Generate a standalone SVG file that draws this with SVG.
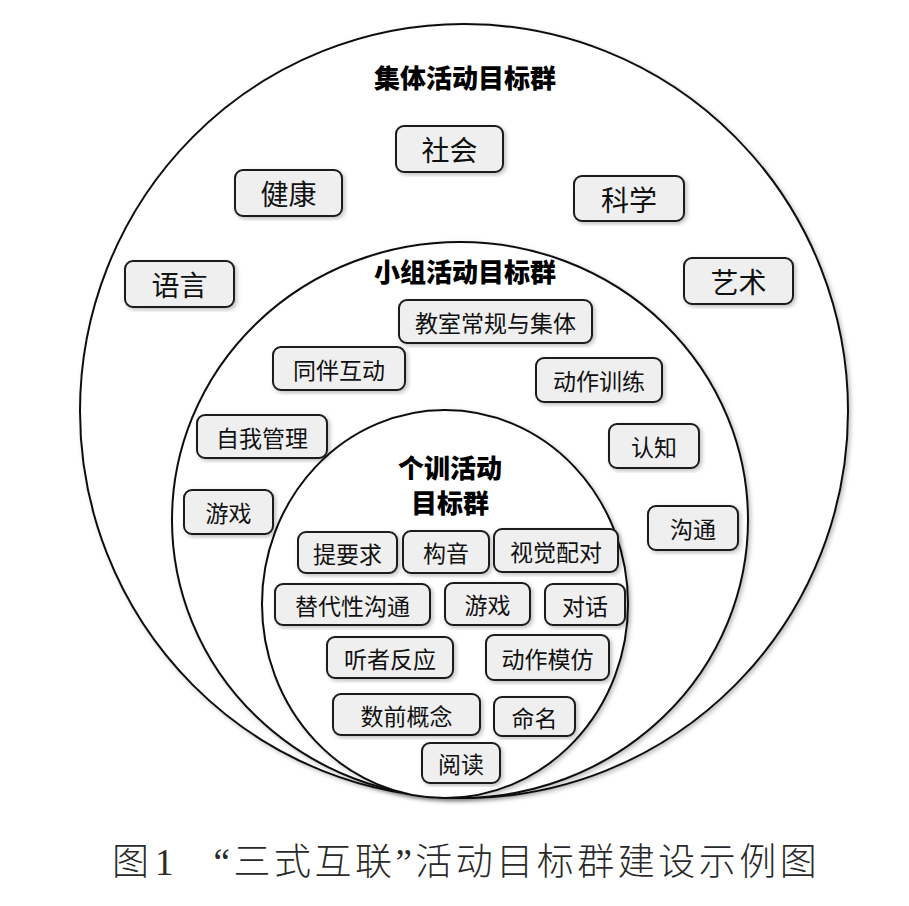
<svg xmlns="http://www.w3.org/2000/svg" width="909" height="906" viewBox="0 0 909 906">
<defs>
<filter id="sh" x="-10%" y="-10%" width="120%" height="120%">
<feDropShadow dx="2" dy="2" stdDeviation="2" flood-color="#000" flood-opacity="0.25"/>
</filter>
<style>
.ring{fill:#fff;stroke:#111;stroke-width:2;filter:url(#sh)}
.box rect{fill:#efefef;stroke:#1a1a1a;stroke-width:2;filter:url(#sh)}
.box text{font-family:"Noto Sans CJK SC","Noto Sans CJK JP",sans-serif;fill:#111;text-anchor:middle;dominant-baseline:central}
.l1 text{font-size:28px}
.l2 text{font-size:23px}
.l3 text{font-size:23px}
.title{font-family:"Noto Sans CJK SC",sans-serif;font-weight:900;fill:#000;text-anchor:middle;dominant-baseline:central}
.cap{font-family:"Liberation Serif","Noto Sans CJK SC",serif;font-size:37px;font-weight:300;fill:#2a2a2a}
</style>
</defs>
<rect width="909" height="906" fill="#fff"/>
<g id="rings">
<ellipse id="ring-outer" class="ring" cx="464" cy="411" rx="384" ry="387"/>
<ellipse id="ring-middle" class="ring" cx="460" cy="520" rx="288" ry="278"/>
<ellipse id="ring-inner" class="ring" cx="445" cy="604" rx="183" ry="194"/>
</g>
<g id="titles">
<text class="title" x="465" y="76" font-size="26">集体活动目标群</text>
<text class="title" x="465" y="270" font-size="26">小组活动目标群</text>
<text class="title" x="450" y="466" font-size="26">个训活动</text>
<text class="title" x="450" y="501" font-size="26">目标群</text>
</g>
<g id="connectors"/>
<g id="n-shehui" class="box l1"><rect x="396" y="126" width="107" height="46" rx="8"/><text x="449.5" y="149">社会</text></g>
<g id="n-jiankang" class="box l1"><rect x="235" y="170" width="107" height="46" rx="8"/><text x="288.5" y="193">健康</text></g>
<g id="n-kexue" class="box l1"><rect x="574" y="176" width="110" height="45" rx="8"/><text x="629" y="198.5">科学</text></g>
<g id="n-yuyan" class="box l1"><rect x="125" y="261" width="109" height="46" rx="8"/><text x="179.5" y="284">语言</text></g>
<g id="n-yishu" class="box l1"><rect x="684" y="258" width="109" height="46" rx="8"/><text x="738.5" y="281">艺术</text></g>

<g id="n-jiaoshi" class="box l2"><rect x="399" y="300" width="193" height="43" rx="8"/><text x="495.5" y="321.5">教室常规与集体</text></g>
<g id="n-tongban" class="box l2"><rect x="273" y="347" width="132" height="43" rx="8"/><text x="339" y="368.5">同伴互动</text></g>
<g id="n-dongzuoxl" class="box l2"><rect x="536" y="358" width="126" height="44" rx="8"/><text x="599" y="380">动作训练</text></g>
<g id="n-ziwo" class="box l2"><rect x="197" y="415" width="130" height="43" rx="8"/><text x="262" y="436.5">自我管理</text></g>
<g id="n-renzhi" class="box l2"><rect x="609" y="424" width="90" height="44" rx="8"/><text x="654" y="446">认知</text></g>
<g id="n-youxi1" class="box l2"><rect x="184" y="490" width="89" height="44" rx="8"/><text x="228.5" y="512">游戏</text></g>
<g id="n-goutong" class="box l2"><rect x="648" y="506" width="90" height="44" rx="8"/><text x="693" y="528">沟通</text></g>

<g id="n-tiyaoqiu" class="box l3"><rect x="298" y="532" width="99" height="41" rx="8"/><text x="347.5" y="552.5">提要求</text></g>
<g id="n-gouyin" class="box l3"><rect x="403" y="531" width="86" height="42" rx="8"/><text x="446" y="552">构音</text></g>
<g id="n-shijue" class="box l3"><rect x="494" y="529" width="124" height="43" rx="8"/><text x="556" y="550.5">视觉配对</text></g>
<g id="n-tidai" class="box l3"><rect x="275" y="584" width="155" height="41" rx="8"/><text x="352.5" y="604.5">替代性沟通</text></g>
<g id="n-youxi2" class="box l3"><rect x="445" y="583" width="85" height="42" rx="8"/><text x="487.5" y="604">游戏</text></g>
<g id="n-duihua" class="box l3"><rect x="545" y="584" width="80" height="41" rx="8"/><text x="585" y="604.5">对话</text></g>
<g id="n-tingzhe" class="box l3"><rect x="327" y="637" width="126" height="41" rx="8"/><text x="390" y="657.5">听者反应</text></g>
<g id="n-mofang" class="box l3"><rect x="486" y="635" width="123" height="45" rx="8"/><text x="547.5" y="657.5">动作模仿</text></g>
<g id="n-shuqian" class="box l3"><rect x="333" y="694" width="147" height="41" rx="8"/><text x="406.5" y="714.5">数前概念</text></g>
<g id="n-mingming" class="box l3"><rect x="494" y="697" width="81" height="39" rx="8"/><text x="534.5" y="716.5">命名</text></g>
<g id="n-yuedu" class="box l3"><rect x="422" y="743" width="78" height="40" rx="8"/><text x="461" y="763">阅读</text></g>

<text class="cap" x="112" y="875">图<tspan dx="6">1</tspan><tspan dx="40" letter-spacing="3.5">“三式互联”活动目标群建设示例图</tspan></text>
</svg>
